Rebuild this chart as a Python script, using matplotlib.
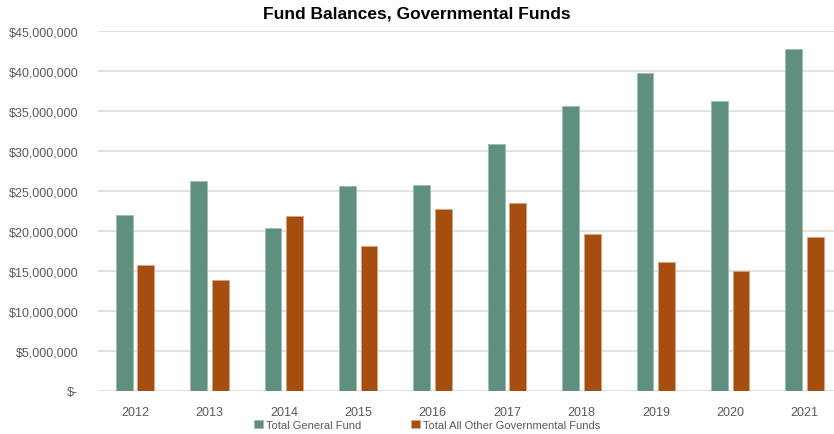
import matplotlib.pyplot as plt
import matplotlib.font_manager as fm
import numpy as np
from matplotlib.ticker import FuncFormatter

years = ['2012', '2013', '2014', '2015', '2016', '2017', '2018', '2019', '2020', '2021']
general_fund = [21_950_000, 26_200_000, 20_400_000, 25_650_000, 25_700_000,
                30_850_000, 35_650_000, 39_800_000, 36_200_000, 42_750_000]
other_funds = [15_750_000, 13_900_000, 21_900_000, 18_100_000, 22_750_000,
               23_550_000, 19_650_000, 16_100_000, 14_950_000, 19_250_000]

# narrow face if present, otherwise plain Liberation Sans at smaller sizes
installed = {f.name for f in fm.fontManager.ttflist}
if 'Liberation Sans Narrow' in installed:
    family = 'Liberation Sans Narrow'
    tick_size, legend_size, title_size = 10.8, 9.6, 14.5
else:
    family = 'Liberation Sans'
    tick_size, legend_size, title_size = 9, 8, 12.5
plt.rcParams['font.family'] = [family, 'DejaVu Sans']

green = '#5f8f7e'
orange = '#a64d10'
grey = '#595959'

fig = plt.figure(figsize=(8.34, 4.35), dpi=100)
ax = fig.add_axes([0.1173, 0.0989, 0.8827, 0.8275])

x = np.arange(len(years))
w = 0.225
ax.bar(x - 0.145, general_fund, w, color=green, edgecolor='#9dbcb1', linewidth=0.6,
       label='Total General Fund', zorder=3)
ax.bar(x + 0.145, other_funds, w, color=orange, edgecolor='#d9a583', linewidth=0.6,
       label='Total All Other Governmental Funds', zorder=3)

ax.set_ylim(0, 45_000_000)
ax.set_xlim(-0.5, 9.395)
ax.set_yticks(np.arange(0, 45_000_001, 5_000_000))
ax.yaxis.set_major_formatter(FuncFormatter(lambda v, p: '$-' if v == 0 else f'${v:,.0f}'))
ax.set_xticks(x)
ax.set_xticklabels(years)
ax.grid(axis='y', color='#dcdcdc', linewidth=1.2, zorder=0)
for s in ax.spines.values():
    s.set_visible(False)
ax.tick_params(axis='both', length=0, labelsize=tick_size, labelcolor=grey)
ax.tick_params(axis='y', pad=14)
ax.tick_params(axis='x', pad=11)

fig.suptitle('Fund Balances, Governmental Funds', x=0.5, y=0.985,
             fontsize=title_size, fontweight='bold', color='black')

fig.legend(loc='center', bbox_to_anchor=(0.512, 0.021), ncol=2, frameon=False,
           fontsize=legend_size, labelcolor=grey, handlelength=0.8, handleheight=0.8,
           handletextpad=0.25, columnspacing=4.5)

fig.savefig('out.png', dpi=100)
